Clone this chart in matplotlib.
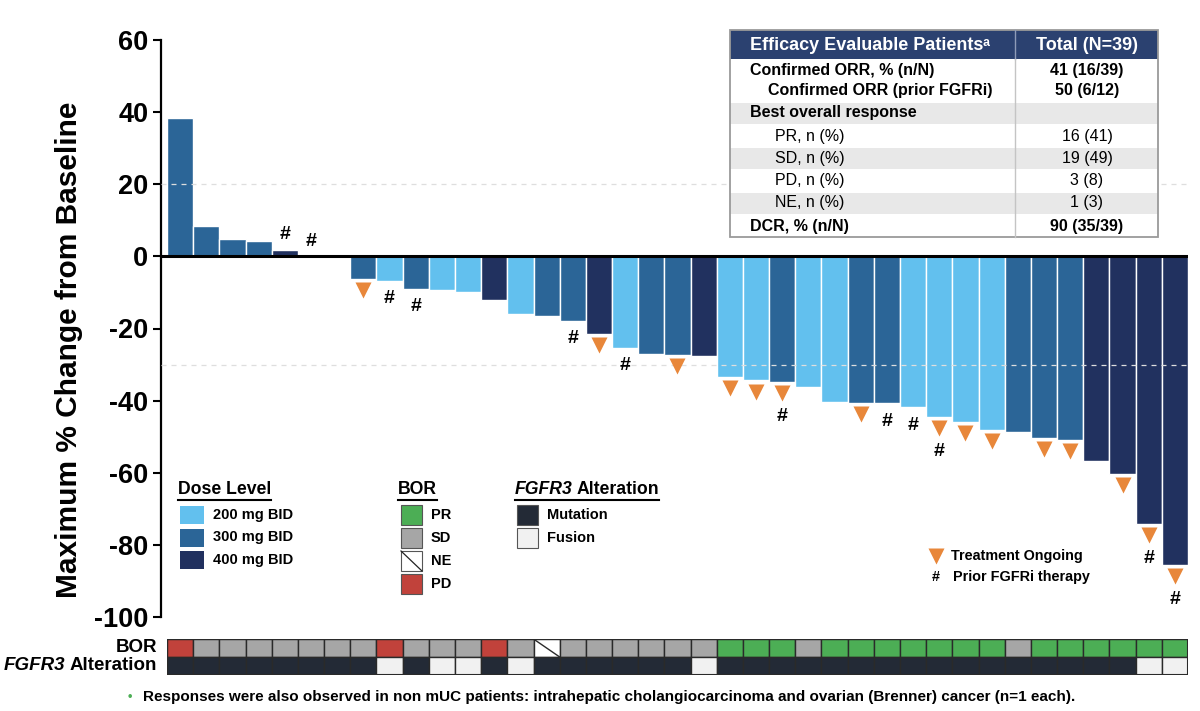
import numpy as np
import matplotlib
matplotlib.use("Agg")
import matplotlib.pyplot as plt
from matplotlib.patches import Rectangle
from matplotlib.transforms import offset_copy
from matplotlib import font_manager

plt.rcParams['font.family'] = ['Liberation Sans', 'DejaVu Sans']
plt.rcParams['font.weight'] = 'bold'
plt.rcParams['axes.unicode_minus'] = False

# maximum % change from baseline, one value per patient (waterfall order)
change = [38.3, 8.4, 4.7, 4.4, 1.8, 0.0, 0.0,
          -6.2, -6.8, -9.0, -9.3, -9.8, -12.2, -16.0,
          -16.6, -17.9, -21.5, -25.3, -27.0, -27.3, -27.5,
          -33.5, -34.4, -34.7, -36.2, -40.5, -40.7, -40.7,
          -41.9, -44.5, -45.8, -48.1, -48.7, -50.3, -51.0,
          -56.7, -60.4, -74.1, -85.6]
dose = [300, 300, 300, 300, 400, 300, 300,
        300, 200, 300, 200, 200, 400, 200,
        300, 300, 400, 200, 300, 300, 400,
        200, 200, 300, 200, 200, 300, 300,
        200, 200, 200, 200, 300, 300, 300,
        400, 400, 400, 400]
bor = ['PD', 'SD', 'SD', 'SD', 'SD', 'SD', 'SD',
       'SD', 'PD', 'SD', 'SD', 'SD', 'PD', 'SD',
       'NE', 'SD', 'SD', 'SD', 'SD', 'SD', 'SD',
       'PR', 'PR', 'PR', 'SD', 'PR', 'PR', 'PR',
       'PR', 'PR', 'PR', 'PR', 'SD', 'PR', 'PR',
       'PR', 'PR', 'PR', 'PR']
fgfr3 = ['Mutation'] * 8 + ['Fusion', 'Mutation', 'Fusion', 'Fusion', 'Mutation', 'Fusion'] \
        + ['Mutation'] * 6 + ['Fusion'] + ['Mutation'] * 16 + ['Fusion', 'Fusion']
# patient positions (1-based)
ongoing = [8, 17, 20, 22, 23, 24, 27, 30, 31, 32, 34, 35, 37, 38, 39]
prior_fgfri = [5, 6, 9, 10, 16, 18, 24, 28, 29, 30, 38, 39]

dose_labels = ['200 mg BID', '300 mg BID', '400 mg BID']
bor_labels = ['PR', 'SD', 'NE', 'PD']
alt_labels = ['Mutation', 'Fusion']

table_header = ['Efficacy Evaluable Patients\u1d43', 'Total (N=39)']
table_labels = ['Confirmed ORR, % (n/N)', 'Confirmed ORR (prior FGFRi)', 'Best overall response',
                'PR, n (%)', 'SD, n (%)', 'PD, n (%)', 'NE, n (%)', 'DCR, % (n/N)']
table_values = ['41 (16/39)', '50 (6/12)', '', '16 (41)', '19 (49)', '3 (8)', '1 (3)', '90 (35/39)']

footnote = ('Responses were also observed in non mUC patients: intrahepatic '
            'cholangiocarcinoma and ovarian (Brenner) cancer (n=1 each).')

dose_colors = {200: '#62c0ee', 300: '#2b6597', 400: '#21315f'}
bor_colors = {'PR': '#4cae55', 'SD': '#a6a6a6', 'NE': 'white', 'PD': '#c1423b'}
alt_colors = {'Mutation': '#232a36', 'Fusion': '#f1f1f1'}
orange = '#e8873a'

W, H = 1200, 711
fig = plt.figure(figsize=(W / 100, H / 100), dpi=100)

# main waterfall
ax = fig.add_axes([161 / W, 1 - 617 / H, (1188 - 161) / W, (617 - 40) / H])
ax.patch.set_alpha(0)
x = np.arange(len(change))
ax.bar(x, change, width=1, color=[dose_colors[d] for d in dose],
       edgecolor='white', linewidth=1, zorder=2)
ax.set_xlim(-0.5 - 6 / 26.2, len(change) - 0.5)
ax.set_ylim(-100, 60)
ax.axhline(0, color='black', lw=2.2, zorder=5)
for yv in (20, -30):
    ax.axhline(yv, color='#dedede', lw=0.9, ls=(0, (4, 4)), zorder=3)
for s in ('top', 'right', 'bottom'):
    ax.spines[s].set_visible(False)
ax.spines['left'].set_linewidth(1.6)
ax.set_xticks([])
ax.set_yticks(range(-100, 61, 20))
ax.tick_params(axis='y', length=6, width=1.5, labelsize=19.5, pad=3)
for lab in ax.get_yticklabels():
    lab.set_fontweight('bold')

vals = np.array(change)
idx_on = [i - 1 for i in ongoing]
tri_tr = offset_copy(ax.transData, fig=fig, x=0, y=-8, units='points')
ax.plot(x[idx_on], vals[idx_on], 'v', color=orange, ms=11, mec='none',
        transform=tri_tr, zorder=6, clip_on=False)
for i in prior_fgfri:
    k = i - 1
    if vals[k] >= 0:
        off = 11
    elif i in ongoing:
        off = -25
    else:
        off = -13
    ax.annotate('#', (k, vals[k]), xytext=(0, off), textcoords='offset points',
                ha='center', va='center', fontsize=14, fontweight='bold', zorder=6)

# BOR / FGFR3 strip
sx = fig.add_axes([167 / W, 1 - 675 / H, 1021 / W, 36 / H])
sx.set_xlim(-0.5, len(change) - 0.5)
sx.set_ylim(0, 2)
sx.bar(x, 1, bottom=1, width=1, color=[bor_colors[b] for b in bor],
       edgecolor='#2a2a2a', linewidth=1)
sx.bar(x, 1, bottom=0, width=1, color=[alt_colors[a] for a in fgfr3],
       edgecolor='#2a2a2a', linewidth=1)
for k, b in enumerate(bor):
    if b == 'NE':
        sx.plot([k - 0.5, k + 0.5], [2, 1], color='#2a2a2a', lw=1)
sx.axis('off')
sx.add_patch(Rectangle((-0.5, 0), len(change), 2, fill=False, ec='#2a2a2a', lw=1.5))

# overlay in pixel coordinates for legend, table and notes
ov = fig.add_axes([0, 0, 1, 1], zorder=10)
ov.set_xlim(0, W)
ov.set_ylim(H, 0)
ov.axis('off')
ov.patch.set_alpha(0)

ov.text(69, 350, 'Maximum % Change from Baseline', rotation=90, ha='center', va='center',
        fontsize=21.5, fontweight='bold')

renderer = fig.canvas.get_renderer()


def xext(t):
    bb = t.get_window_extent(renderer=renderer)
    return bb.x0, bb.x1


# strip labels
ov.text(157, 648, 'BOR', ha='right', va='center', fontsize=13.5)
t = ov.text(157, 666, 'Alteration', ha='right', va='center', fontsize=13.5)
x0, _ = xext(t)
ov.text(x0 - 4, 666, 'FGFR3', ha='right', va='center', fontsize=13.5, style='italic')


def legend_title(xp, parts):
    xs = xp
    for txt, it in parts:
        tt = ov.text(xs, 490, txt, ha='left', va='center', fontsize=12.7,
                     style='italic' if it else 'normal')
        _, xs = xext(tt)
        xs += 4
    ov.plot([xp, xs - 4], [500, 500], color='black', lw=1.5)


legend_title(178, [('Dose Level', False)])
legend_title(398, [('BOR', False)])
legend_title(515, [('FGFR3', True), ('Alteration', False)])

for j, lab in enumerate(dose_labels):
    yc = 515 + j * 22.5
    ov.add_patch(Rectangle((180, yc - 9), 24, 18, fc=dose_colors[[200, 300, 400][j]], ec='none'))
    ov.text(213, yc, lab, ha='left', va='center', fontsize=10.5)
for j, lab in enumerate(bor_labels):
    yc = 515 + j * 23
    ov.add_patch(Rectangle((401, yc - 10), 21, 20, fc=bor_colors[lab], ec='#555555', lw=0.8))
    if lab == 'NE':
        ov.plot([401, 422], [yc - 10, yc + 10], color='#222222', lw=0.9)
    ov.text(431, yc, lab, ha='left', va='center', fontsize=10.5)
for j, lab in enumerate(alt_labels):
    yc = 515 + j * 23
    ov.add_patch(Rectangle((517, yc - 10), 21, 20, fc=alt_colors[lab], ec='#555555', lw=0.8))
    ov.text(547, yc, lab, ha='left', va='center', fontsize=10.5)

ov.plot([936], [556], 'v', color=orange, ms=11, mec='none')
ov.text(951, 556, 'Treatment Ongoing', ha='left', va='center', fontsize=10.4)
ov.text(936, 577, '#', ha='center', va='center', fontsize=10.4)
ov.text(953, 577, 'Prior FGFRi therapy', ha='left', va='center', fontsize=10.4)

# efficacy table
tl, tr, tt, tb = 730, 1158, 30, 237
ov.add_patch(Rectangle((tl, tt), tr - tl, tb - tt, fc='white', ec='none'))
ov.add_patch(Rectangle((tl, tt), tr - tl, 29, fc='#2b4170', ec='none'))
row_y = [71, 91, 113, 136, 158, 181, 203, 226]
shaded = [False, False, True, False, True, False, True, False]
indent = [750, 768, 750, 775, 775, 775, 775, 750]
bold = [True, True, True, False, False, False, False, True]
for yc, sh in zip(row_y, shaded):
    if sh:
        ov.add_patch(Rectangle((tl, yc - 10.5), tr - tl, 21, fc='#e8e8e8', ec='none'))
ov.plot([1015, 1015], [tt, tt + 29], color='#8e9bb8', lw=1)
ov.plot([1015, 1015], [tt + 29, tb], color='#c4c4c4', lw=1)
ov.add_patch(Rectangle((tl, tt), tr - tl, tb - tt, fill=False, ec='#9a9a9a', lw=1.3))
ov.text(750, 45, table_header[0], ha='left', va='center', color='white', fontsize=13)
ov.text(1087, 45, table_header[1], ha='center', va='center', color='white', fontsize=13)
for yc, lab, val, xi, b in zip(row_y, table_labels, table_values, indent, bold):
    w = 'bold' if b else 'normal'
    ov.text(xi, yc, lab, ha='left', va='center', fontsize=11.5, fontweight=w)
    ov.text(1087, yc, val, ha='center', va='center', fontsize=11.5, fontweight=w)

# footnote
names = {f.name for f in font_manager.fontManager.ttflist}
if 'Liberation Sans Narrow' in names:
    fam, fs = ['Liberation Sans Narrow', 'Liberation Sans'], 13.3
else:
    fam, fs = ['Liberation Sans', 'DejaVu Sans'], 11
ov.text(130, 697, '\u2022', ha='center', va='center', color='#4cae55', fontsize=9)
ov.text(143, 697, footnote, ha='left', va='center', fontsize=fs, family=fam)

fig.savefig('out.png', dpi=100)
